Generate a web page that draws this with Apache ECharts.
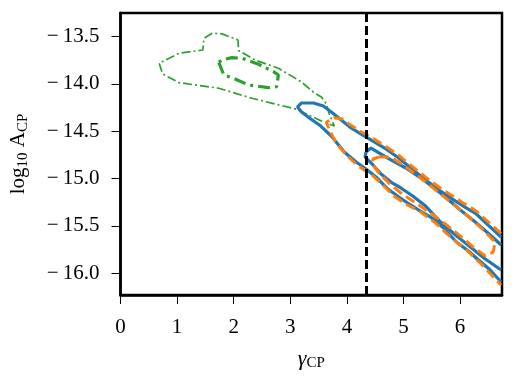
<!DOCTYPE html>
<html>
<head>
<meta charset="utf-8">
<script src="https://cdn.jsdelivr.net/npm/echarts@6/dist/echarts.min.js"></script>
<style>
  html, body { margin: 0; padding: 0; background: #fff; }
  #chart { width: 520px; height: 377px; }
</style>
</head>
<body>
<div id="chart"></div>
<script>
// axis ranges and ticks
var xMin = 0, xMax = 6.74;
var yMin = -16.23, yMax = -13.25;
var xTicks = [0, 1, 2, 3, 4, 5, 6];
var yTicks = [-16.0, -15.5, -15.0, -14.5, -14.0, -13.5];
var gammaLine = 4.34;

// blue contours (solid)
var blueOuter = [
  [6.724,-15.617],[6.496,-15.491],[6.286,-15.374],[6.058,-15.290],[5.865,-15.216],[5.654,-15.131],
  [5.391,-15.015],[5.128,-14.888],[4.917,-14.782],[4.689,-14.687],[4.461,-14.603],[4.251,-14.529],
  [4.075,-14.465],[3.900,-14.381],[3.724,-14.296],[3.584,-14.233],[3.409,-14.201],[3.198,-14.201],
  [3.128,-14.243],[3.198,-14.296],[3.338,-14.359],[3.514,-14.433],[3.724,-14.550],[3.953,-14.719],
  [4.163,-14.825],[4.338,-14.898],[4.514,-14.983],[4.724,-15.110],[4.917,-15.195],[5.075,-15.258],
  [5.268,-15.332],[5.479,-15.406],[5.707,-15.522],[5.935,-15.670],[6.146,-15.765],[6.304,-15.850],
  [6.532,-15.966],[6.724,-16.093]
];
var blueInner = [
  [6.724,-15.702],[6.532,-15.596],[6.268,-15.459],[6.005,-15.332],[5.777,-15.216],[5.567,-15.110],
  [5.304,-14.994],[5.040,-14.888],[4.777,-14.803],[4.566,-14.729],[4.426,-14.677],[4.338,-14.719],
  [4.321,-14.772],[4.461,-14.856],[4.602,-14.951],[4.777,-15.036],[4.953,-15.099],[5.163,-15.184],
  [5.391,-15.290],[5.654,-15.459],[5.918,-15.596],[6.181,-15.723],[6.444,-15.850],[6.724,-15.966]
];

// orange contours (dashed)
var orangeOuter = [
  [6.724,-15.580],[6.500,-15.460],[6.290,-15.345],[6.060,-15.260],[5.870,-15.185],[5.650,-15.100],
  [5.390,-14.985],[5.130,-14.860],[4.920,-14.755],[4.690,-14.660],[4.460,-14.575],[4.250,-14.505],
  [4.080,-14.440],[3.900,-14.365],[3.777,-14.359],[3.637,-14.402],[3.689,-14.486],[3.812,-14.624],
  [3.988,-14.751],[4.198,-14.867],[4.426,-14.951],[4.637,-15.068],[4.830,-15.184],[5.040,-15.269],
  [5.304,-15.353],[5.567,-15.470],[5.830,-15.617],[6.093,-15.744],[6.356,-15.892],[6.724,-16.125]
];
var orangeInner = [
  [4.566,-14.772],[4.777,-14.772],[5.040,-14.877],[5.304,-14.994],[5.567,-15.120],[5.830,-15.247],
  [6.093,-15.374],[6.356,-15.512],[6.619,-15.670],[6.584,-15.776],[6.444,-15.818],[6.233,-15.723],
  [6.005,-15.607],[5.742,-15.480],[5.479,-15.364],[5.216,-15.258],[4.953,-15.152],[4.742,-15.047],
  [4.566,-14.941],[4.444,-14.846],[4.461,-14.793],[4.566,-14.772]
];

// green contours (dash-dot)
var greenOuter = [
  [0.684,-13.781],[0.742,-13.894],[1.035,-13.986],[1.737,-14.045],[2.321,-14.151],[3.110,-14.267],
  [3.549,-14.392],[3.777,-14.444],[3.689,-14.317],[3.637,-14.211],[3.549,-14.137],[3.426,-14.095],
  [3.198,-13.979],[2.789,-13.834],[2.374,-13.746],[2.088,-13.648],[2.075,-13.535],[1.795,-13.471],
  [1.619,-13.464],[1.474,-13.517],[1.456,-13.641],[1.035,-13.675],[0.684,-13.781]
];
var greenInner = [
  [1.737,-13.771],[1.825,-13.905],[2.000,-13.940],[2.263,-14.011],[2.614,-14.039],[2.760,-14.029],
  [2.789,-13.905],[2.702,-13.870],[2.439,-13.792],[2.146,-13.728],[1.970,-13.722],[1.795,-13.746],
  [1.737,-13.771]
];

var serif = '"Liberation Serif", "DejaVu Serif", serif';

function fmtNum(v, d) {
  return (v < 0 ? '\u2212\u2009' : '') + Math.abs(v).toFixed(d);
}

function contour(data, color, width, dash) {
  return {
    type: 'line',
    data: data,
    symbol: 'none',
    silent: true,
    lineStyle: { color: color, width: width, type: dash }
  };
}

var chart = echarts.init(document.getElementById('chart'), null, { renderer: 'canvas' });

var option = {
  animation: false,
  grid: {
    left: 118, top: 13, width: 384, height: 282,
    show: true, borderColor: '#000', borderWidth: 2.5, backgroundColor: 'transparent'
  },
  xAxis: {
    type: 'value', min: xMin, max: xMax,
    name: '{g|\u03b3}{s|CP}',
    nameLocation: 'middle', nameGap: 52,
    nameTextStyle: {
      rich: {
        g: { fontFamily: serif, fontSize: 22, fontStyle: 'italic', color: '#000', lineHeight: 24 },
        s: { fontFamily: serif, fontSize: 15, color: '#000', verticalAlign: 'bottom', lineHeight: 12 }
      }
    },
    axisLine: { show: true, onZero: false, lineStyle: { color: '#000', width: 2.5 } },
    axisTick: { show: true, length: 9, lineStyle: { color: '#000', width: 1 }, customValues: xTicks },
    axisLabel: {
      fontFamily: serif, fontSize: 21, color: '#000', margin: 22,
      customValues: xTicks,
      formatter: function (v) { return fmtNum(v, 0); }
    },
    splitLine: { show: false }
  },
  yAxis: {
    type: 'value', min: yMin, max: yMax,
    name: '{n|log}{s|10}{n| A}{s|CP}',
    nameLocation: 'middle', nameGap: 90, nameRotate: 90,
    nameTextStyle: {
      rich: {
        n: { fontFamily: serif, fontSize: 21, color: '#000', lineHeight: 24 },
        s: { fontFamily: serif, fontSize: 15, color: '#000', verticalAlign: 'bottom', lineHeight: 12 }
      }
    },
    axisLine: { show: true, onZero: false, lineStyle: { color: '#000', width: 2.5 } },
    axisTick: { show: true, length: 9, lineStyle: { color: '#000', width: 1 }, customValues: yTicks },
    axisLabel: {
      fontFamily: serif, fontSize: 21, color: '#000', margin: 21,
      customValues: yTicks,
      formatter: function (v) { return fmtNum(v, 1); }
    },
    splitLine: { show: false }
  },
  series: [
    contour(greenOuter, '#2ca02c', 1.7, [9, 3, 2, 3]),
    contour(greenInner, '#2ca02c', 3.2, [12, 5, 3, 5]),
    contour(blueOuter, '#1f77b4', 3.2, 'solid'),
    contour(blueInner, '#1f77b4', 3.2, 'solid'),
    contour(orangeOuter, '#ff7f0e', 3, [10, 5]),
    contour(orangeInner, '#ff7f0e', 3, [10, 5]),
    {
      type: 'line', data: [], symbol: 'none', silent: true,
      markLine: {
        silent: true, symbol: 'none', animation: false,
        label: { show: false },
        lineStyle: { color: '#000', width: 3, type: [9, 4] },
        data: [{ xAxis: gammaLine }]
      }
    }
  ]
};

chart.setOption(option);
</script>
</body>
</html>
